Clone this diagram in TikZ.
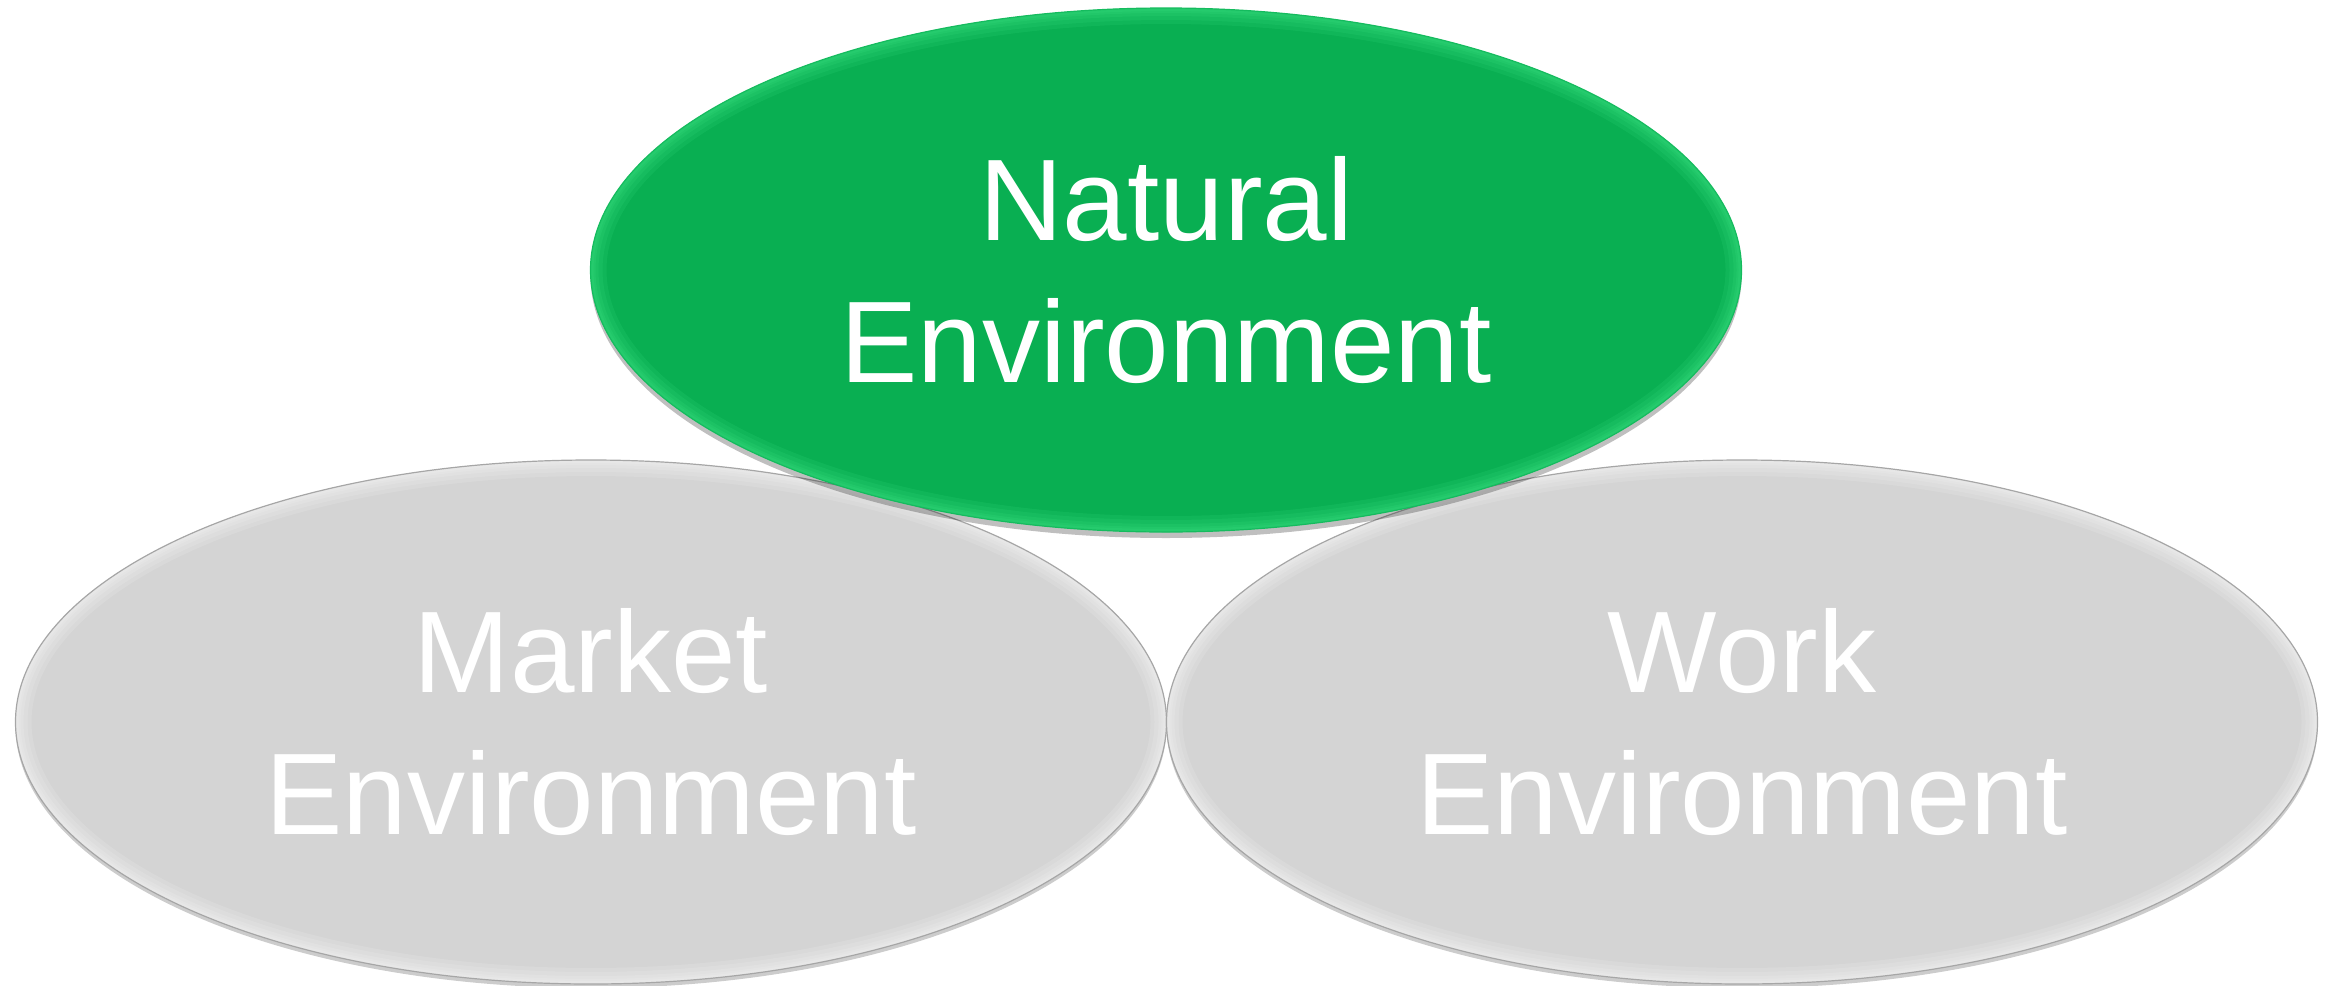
\documentclass[tikz,border=0pt]{standalone}
\usepackage{fontspec}
\setmainfont{Liberation Sans}
\usetikzlibrary{shapes.geometric,shadows}
\definecolor{natgreen}{RGB}{9,175,82}
\definecolor{lightgreen}{RGB}{70,235,140}
\definecolor{envgray}{RGB}{212,212,212}
\tikzset{
  oval/.style={ellipse, inner sep=0pt, minimum width=575.5pt, minimum height=262pt,
    text=white, align=center, font=\fontsize{58pt}{71pt}\selectfont},
  greenoval/.style={oval, fill=natgreen,
    drop shadow={shadow xshift=0pt, shadow yshift=-3pt, opacity=0.25, fill=black}},
  grayoval/.style={oval, fill=envgray,
    drop shadow={shadow xshift=0pt, shadow yshift=-2pt, opacity=0.2, fill=black}},
}
% soft inner rim: #1 node, #2 glow colour, #3 edge colour
\newcommand\ovalrim[3]{%
  \begin{scope}
    \clip (#1.center) ellipse [x radius=575.5, y radius=262];
    \foreach \w in {16,12,8,5,3}{
      \draw[draw=#2, line width=\w pt, opacity=0.13]
        (#1.center) ellipse [x radius=575.5, y radius=262];
    }
  \end{scope}
  \draw[draw=#3, line width=0.6pt] (#1.center) ellipse [x radius=575.5, y radius=262];
}
\begin{document}
\begin{tikzpicture}[x=0.5pt,y=-0.5pt]
\useasboundingbox (0,0) rectangle (2328,985);
\node[grayoval] (market) at (591,722) {Market\\Environment};
\ovalrim{market}{white}{gray!70}
\node[grayoval] (work) at (1742,722) {Work\\Environment};
\ovalrim{work}{white}{gray!70}
\node[greenoval] (natural) at (1166,270) {Natural\\Environment};
\ovalrim{natural}{lightgreen}{natgreen!80!lightgreen}
\end{tikzpicture}
\end{document}
